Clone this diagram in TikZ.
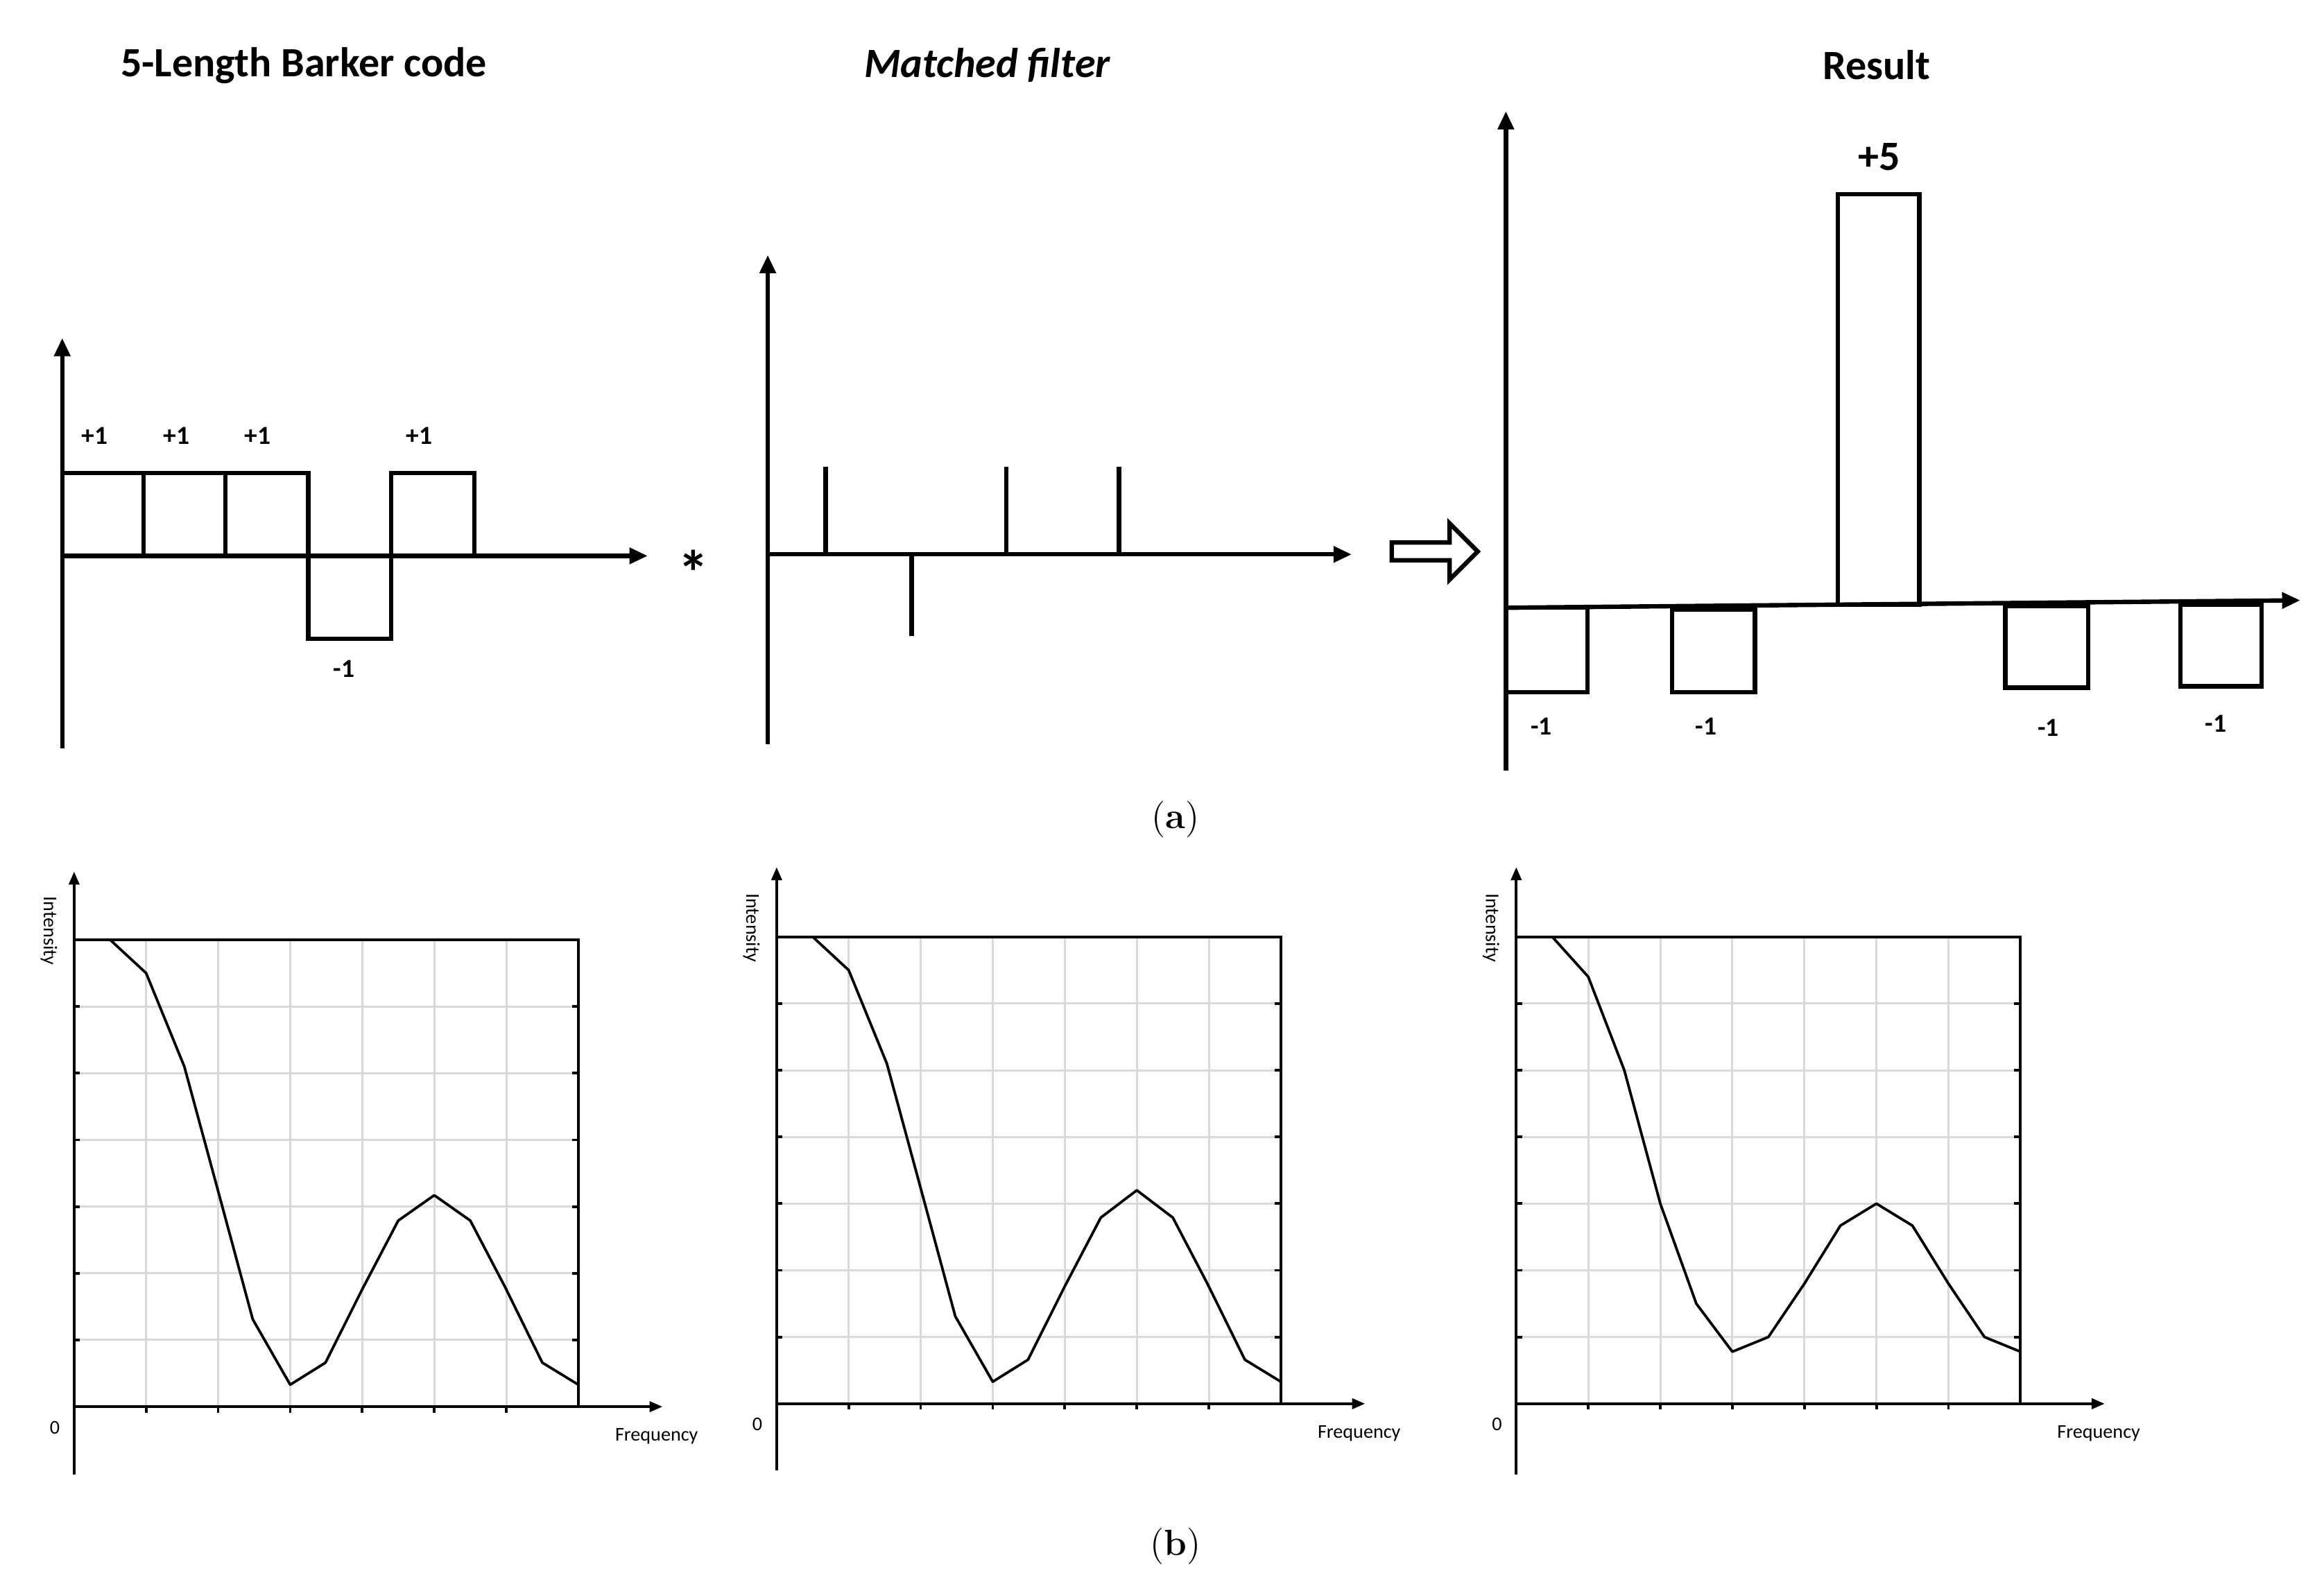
\documentclass[tikz,border=0pt]{standalone}
\usepackage{fontspec}
\setsansfont{Carlito}
\usetikzlibrary{arrows.meta,shapes.arrows}
\begin{document}
\begin{tikzpicture}[x=0.02cm,y=-0.02cm,
  thick line/.style={line width=1.7pt},
  ax/.style={line width=1.7pt,-{Triangle[length=7pt,width=6pt]}},
  lab/.style={font=\sffamily\bfseries\fontsize{10}{12}\selectfont},
  ttl/.style={font=\sffamily\bfseries\fontsize{16}{19}\selectfont},
  captxt/.style={font=\fontsize{14}{16}\selectfont},
  small/.style={font=\sffamily\fontsize{7.5}{9}\selectfont},
  pax/.style={line width=1pt,-{Triangle[length=5pt,width=4pt]}},
  gridl/.style={draw=black!15,line width=0.8pt},
  curve/.style={line width=1pt,line join=round}]
\useasboundingbox (0,0) rectangle (1568,1072);
% ---------- Panel 1
\node[ttl] (t1) at (205,44) {5-Length Barker code};
\coordinate (y1a) at (42,505); \coordinate (y1b) at (42,228);
\coordinate (x1a) at (42,375); \coordinate (x1b) at (437,375);
\draw[ax] (y1a) -- (y1b);
\draw[ax] (x1a) -- (x1b);
\draw[thick line] (42,375) rectangle (97,319);
\draw[thick line] (97,375) rectangle (152,319);
\draw[thick line] (152,375) rectangle (208,319);
\draw[thick line] (208,375) rectangle (264,431);
\draw[thick line] (264,375) rectangle (320,319);
\node[lab] (p1) at (64,294) {+1};
\node[lab] (p2) at (119,294) {+1};
\node[lab] (p3) at (174,294) {+1};
\node[lab] (p4) at (283,294) {+1};
\node[lab] (m1) at (232,451) {-1};
\node[font=\sffamily\bfseries\fontsize{24}{24}\selectfont] (star) at (468,386) {*};
% ---------- Panel 2
\node[font=\sffamily\bfseries\itshape\fontsize{16}{19}\selectfont] (t2) at (666,44) {Matched filter};
\coordinate (y2a) at (518,502); \coordinate (y2b) at (518,172);
\coordinate (x2a) at (518,374); \coordinate (x2b) at (912,374);
\draw[ax] (y2a) -- (y2b);
\draw[ax] (x2a) -- (x2b);
\draw[thick line] (557,374) -- (557,315);
\draw[thick line] (615,374) -- (615,429);
\draw[thick line] (679,374) -- (679,315);
\draw[thick line] (755,374) -- (755,315);
% block arrow
\node[single arrow,draw,line width=1.7pt,minimum width=38*0.02cm,
  single arrow head extend=4pt,minimum height=58*0.02cm,inner sep=1pt] (barr) at (965,372) {};
% ---------- Panel 3
\node[ttl] (t3) at (1266,44) {Result};
\coordinate (y3a) at (1016,520); \coordinate (y3b) at (1016,75);
\coordinate (x3a) at (1016,410); \coordinate (x3b) at (1552,405);
\draw[ax] (y3a) -- (y3b);
\draw[ax] (x3a) -- (x3b);
\draw[thick line] (1016,410) rectangle (1071,467);
\draw[thick line] (1128,411) rectangle (1184,467);
\draw[thick line] (1240,408) rectangle (1295,131);
\draw[thick line] (1353,409) rectangle (1409,464);
\draw[thick line] (1471,408) rectangle (1526,463);
\node[lab] (n1) at (1040,490) {-1};
\node[lab] (n2) at (1151,490) {-1};
\node[lab] (n3) at (1382,491) {-1};
\node[lab] (n4) at (1495,488) {-1};
\node[ttl] (p5) at (1268,106) {+5};
\node[captxt] (ca) at (793,553) {(\textbf{a})};
\node[captxt] (cb) at (793,1043) {(\textbf{b})};
% ---------- bottom plots
\foreach \X/\Y/\Yt/\Yb/\nm/\curv in {
  50/949/588/995/A/{(0.5,7) (1,6.5) (1.53,5.1) (2.03,3.11) (2.48,1.31) (3,0.33) (3.49,0.66) (4,1.76) (4.5,2.79) (5,3.17) (5.5,2.79) (5.98,1.8) (6.5,0.66) (7,0.33)},
  524/947/585/992/B/{(0.5,7) (1,6.5) (1.53,5.1) (2.03,3.11) (2.48,1.31) (3,0.33) (3.49,0.66) (4,1.76) (4.5,2.79) (5,3.2) (5.5,2.79) (5.98,1.8) (6.5,0.66) (7,0.33)},
  1023/947/585/995/C/{(0.5,7) (1,6.4) (1.5,5.0) (2,3.0) (2.5,1.5) (3,0.78) (3.5,1.0) (4,1.8) (4.5,2.67) (5,3.0) (5.5,2.67) (6,1.8) (6.5,1.0) (7,0.78)}}{
  \begin{scope}[shift={(\X,\Y)}]
    \foreach \i in {1,...,6} {
      \draw[gridl] (\i*48.6,0) -- (\i*48.6,-315);
      \draw[gridl] (0,-\i*45) -- (340.2,-\i*45);
      \draw[line width=1pt] (\i*48.6,0) -- (\i*48.6,4);
      \draw[line width=1pt] (0,-\i*45) -- (4,-\i*45);
      \draw[line width=1pt] (340.2,-\i*45) -- (336,-\i*45);
    }
    \draw[line width=1pt] (0,-315) -- (340.2,-315) -- (340.2,0);
    \coordinate (ya\nm) at (0,\Yb-\Y); \coordinate (yb\nm) at (0,\Yt-\Y);
    \coordinate (xa\nm) at (0,0); \coordinate (xb\nm) at (397,0);
    \draw[pax] (ya\nm) -- (yb\nm);
    \draw[pax] (xa\nm) -- (xb\nm);
    \draw[curve] plot[x=48.6*0.02cm,y=45*0.02cm] coordinates {\curv};
    \node[small,rotate=-90] (int\nm) at (-17,-321) {Intensity};
    \node[small] (zero\nm) at (-13,14) {0};
    \node[small] (fr\nm) at (393,20) {Frequency};
  \end{scope}
}
\end{tikzpicture}
\end{document}
